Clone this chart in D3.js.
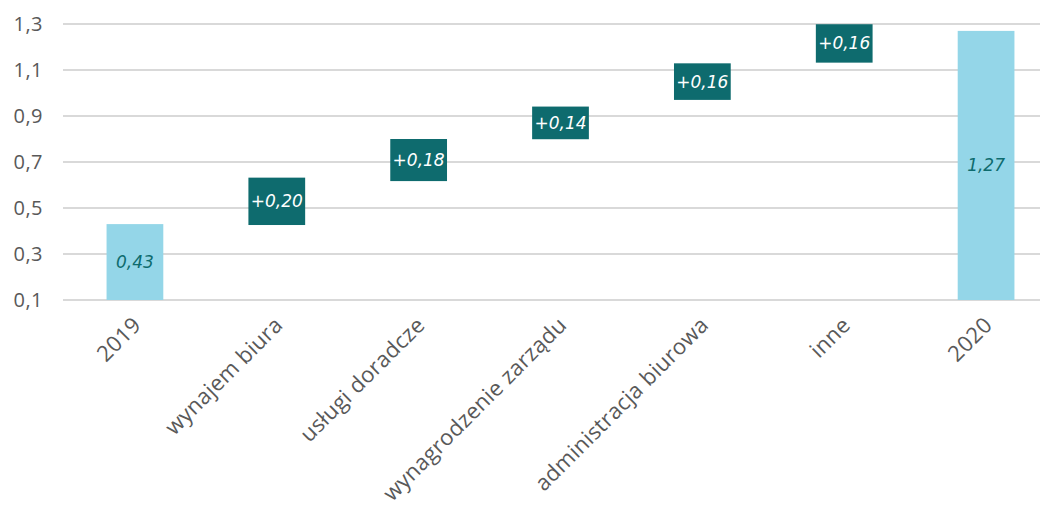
<!DOCTYPE html>
<html>
<head>
<meta charset="utf-8">
<script src="https://cdn.jsdelivr.net/npm/d3@7"></script>
<style>
  body { margin: 0; background: #fff; }
</style>
</head>
<body>
<div id="chart"></div>
<script>
var categories = ["2019", "wynajem biura", "usługi doradcze", "wynagrodzenie zarządu",
                  "administracja biurowa", "inne", "2020"];
// bottom and top of each bar
var barLow  = [0.1,  0.426, 0.617, 0.799, 0.97,  1.132, 0.1];
var barHigh = [0.43, 0.632, 0.80,  0.941, 1.129, 1.299, 1.27];
var barLabels = ["0,43", "+0,20", "+0,18", "+0,14", "+0,16", "+0,16", "1,27"];
var isTotal = [true, false, false, false, false, false, true];
var yTicks = [0.1, 0.3, 0.5, 0.7, 0.9, 1.1, 1.3];

var width = 1046,
    height = 506;

var svg = d3.select("#chart").append("svg")
  .attr("width", width)
  .attr("height", height);

var x = d3.scaleBand()
  .domain(categories)
  .range([64, 1057])
  .paddingInner(0.6)
  .paddingOuter(0.3);

var y = d3.scaleLinear()
  .domain([0.1, 1.3])
  .range([300, 24]);

// grid lines
svg.append("g").selectAll("line")
  .data(yTicks)
  .enter()
  .append("line")
  .attr("x1", 63)
  .attr("x2", 1040)
  .attr("y1", function(d){ return y(d); })
  .attr("y2", function(d){ return y(d); })
  .style("stroke", "#d9d9d9")
  .style("stroke-width", 2);

// y tick labels
svg.append("g").selectAll("text")
  .data(yTicks)
  .enter()
  .append("text")
  .attr("x", 43)
  .attr("y", function(d){ return y(d); })
  .attr("dy", "0.36em")
  .style("text-anchor", "end")
  .style("font", "20px 'Open Sans', sans-serif")
  .style("letter-spacing", "0.5px")
  .style("fill", "#595959")
  .text(function(d){ return d3.format(".1f")(d).replace(".", ","); });

var data = categories.map(function(c, i){
  return { cat: c, lo: barLow[i], hi: barHigh[i], label: barLabels[i], total: isTotal[i] };
});

svg.append("g").selectAll("rect")
  .data(data)
  .enter()
  .append("rect")
  .attr("x", function(d){ return x(d.cat); })
  .attr("width", x.bandwidth())
  .attr("y", function(d){ return y(d.hi); })
  .attr("height", function(d){ return y(d.lo) - y(d.hi); })
  .style("fill", function(d){ return d.total ? "#94d6e8" : "#0e6b6e"; });

svg.append("g").selectAll("text")
  .data(data)
  .enter()
  .append("text")
  .attr("x", function(d){ return x(d.cat) + x.bandwidth() / 2; })
  .attr("y", function(d){ return (y(d.lo) + y(d.hi)) / 2; })
  .attr("dy", "0.35em")
  .style("text-anchor", "middle")
  .style("font", "italic 17px 'DejaVu Sans', sans-serif")
  .style("fill", function(d){ return d.total ? "#0e6b6e" : "#ffffff"; })
  .text(function(d){ return d.label; });

// x labels rotated
svg.append("g").selectAll("text")
  .data(categories)
  .enter()
  .append("text")
  .attr("transform", function(d){
    return "translate(" + (x(d) + x.bandwidth() / 2 + 2) + ",321) rotate(-45)";
  })
  .attr("dy", "0.35em")
  .style("text-anchor", "end")
  .style("font", "22px 'Open Sans', sans-serif")
  .style("letter-spacing", "0.3px")
  .style("fill", "#595959")
  .text(function(d){ return d; });
</script>
</body>
</html>
